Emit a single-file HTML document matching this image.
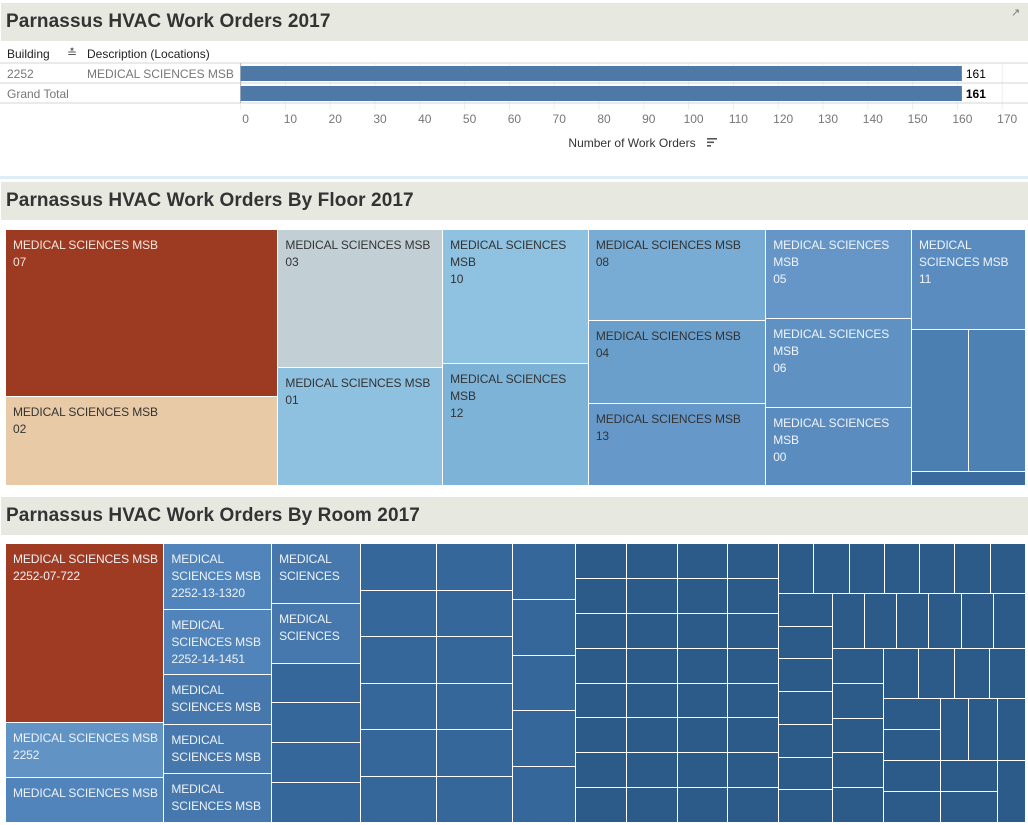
<!DOCTYPE html>
<html><head><meta charset="utf-8">
<style>
body{margin:0;width:1028px;height:825px;background:#fff;font-family:"Liberation Sans",sans-serif;position:relative;overflow:hidden}
.tb{position:absolute;left:1px;width:1027px;height:38px;background:#e7e8e0}
.tb span{position:absolute;left:5px;top:8px;font-size:19px;color:#333;font-weight:bold;letter-spacing:0.1px}
.abs{position:absolute}
.cell{position:absolute;box-sizing:border-box;border-right:1px solid #fff;border-bottom:1px solid #fff;font-size:12px;line-height:17px;padding:7px 7px 0 7px;overflow:hidden;white-space:nowrap;letter-spacing:-0.1px}
</style></head><body>
<div class="tb" style="top:3px"><span>Parnassus HVAC Work Orders 2017</span></div>
<div class="abs" style="left:1011px;top:6px;font-size:11px;color:#777">↗</div>
<div class="abs" style="left:7px;top:47px;font-size:12px;color:#222">Building</div>
<div class="abs" style="left:67px;top:46px;font-size:12px;color:#555">≛</div>
<div class="abs" style="left:87px;top:47px;font-size:12px;color:#222">Description (Locations)</div>
<svg class="abs" style="left:0;top:0" width="1028" height="175" id="hvacBarSvg"></svg>
<div class="abs" style="left:0;top:176px;width:1028px;height:3px;background:#ddeef8"></div>
<div class="tb" style="top:182px"><span>Parnassus HVAC Work Orders By Floor 2017</span></div>
<div class="abs" id="hvacFloorMap" style="left:6px;top:230px;width:1020px;height:256px"></div>
<div class="tb" style="top:497px"><span>Parnassus HVAC Work Orders By Room 2017</span></div>
<div class="abs" id="hvacRoomMap" style="left:6px;top:544px;width:1020px;height:279px"></div>
<script>
var hvacBarCategories=["2252","Grand Total"];
var hvacBarDescriptions=["MEDICAL SCIENCES MSB",""];
var hvacBarValues=[161,161];
var hvacTickValues=[0,10,20,30,40,50,60,70,80,90,100,110,120,130,140,150,160,170];

// floor treemap: nested arrays alternate horizontal/vertical, leaves are counts
var hvacFloorTree=[[28,15],[14,12],[12,11],[10,9,9],[8,8,7],[7,[5,5],1]];
var hvacFloorLabels=["07","02","03","01","10","12","08","04","13","05","06","00","11","","",""];
var hvacFloorPrefix=["MEDICAL SCIENCES MSB","MEDICAL SCIENCES MSB","MEDICAL SCIENCES MSB","MEDICAL SCIENCES MSB",
 "MEDICAL SCIENCES<br>MSB","MEDICAL SCIENCES<br>MSB","MEDICAL SCIENCES MSB","MEDICAL SCIENCES MSB","MEDICAL SCIENCES MSB",
 "MEDICAL SCIENCES<br>MSB","MEDICAL SCIENCES<br>MSB","MEDICAL SCIENCES<br>MSB","MEDICAL<br>SCIENCES MSB","","",""];
var hvacFloorColors=["#9c3a22","#e8cba6","#c2d0d6","#8ec0df","#8fc1e0","#7eb3d8","#79acd4","#6a9fcc","#6699c9","#6596c7","#5f91c3","#5a8cc0","#5a8cc0","#4b7eb1","#4d80b3","#3a6ca0"];
var hvacFloorText=["#f3e6e0","#333","#333","#333","#333","#333","#333","#333","#333","#f0f4f8","#f0f4f8","#f0f4f8","#f0f4f8","","",""];

var hvacRoomTree=[[16,5,4],[4,4,3,3,3],[3,3,2,2,2,2],[2,2,2,2,2,2],[2,2,2,2,2,2],[2,2,2,2,2],
 [1,1,1,1,1,1,1,1],[1,1,1,1,1,1,1,1],[1,1,1,1,1,1,1,1],[1,1,1,1,1,1,1,1],
 [[1,1,1,1,1,1,1],[[1,1,1,1,1,1,1],[[1,1,1,1,1,1],[[1,1,1,1,1],[[1,1,1,1],[[1,1],1,1,1],[[1,1],[1,1],1]]]]]]];
var hvacRoomLabels={0:"MEDICAL SCIENCES MSB<br>2252-07-722",1:"MEDICAL SCIENCES MSB<br>2252",2:"MEDICAL SCIENCES MSB",
 3:"MEDICAL<br>SCIENCES MSB<br>2252-13-1320",4:"MEDICAL<br>SCIENCES MSB<br>2252-14-1451",5:"MEDICAL<br>SCIENCES MSB",6:"MEDICAL<br>SCIENCES MSB",7:"MEDICAL<br>SCIENCES MSB",
 8:"MEDICAL<br>SCIENCES",9:"MEDICAL<br>SCIENCES"};
var hvacRoomColorByValue={16:"#9e3b22",5:"#6194c5",4:"#5084ba",3:"#4778ad",2:"#35679b",1:"#2c5b8a"};

(function(){
 var svgEl=document.getElementById('hvacBarSvg');
 var ns="http://www.w3.org/2000/svg";
 var zeroX=240.6,pxPer=4.48;
 function sx(v){return zeroX+v*pxPer;}
 function mkEl(t,a,txt){var e=document.createElementNS(ns,t);for(var k in a)e.setAttribute(k,a[k]);if(txt!==undefined)e.textContent=String(txt);svgEl.appendChild(e);return e;}
 hvacTickValues.forEach(function(t){
  var g=mkEl('line',{x1:sx(t),x2:sx(t),y1:63,y2:110,stroke:'#eee'});
  
  
  var l=mkEl('text',{x:sx(t)+5,y:123,'font-size':12,fill:'#777','text-anchor':'middle','font-family':'Liberation Sans'},t);
  
  
 });
 [63,83,103].forEach(function(y){var l=mkEl('line',{x1:0,x2:1028,y1:y,y2:y,stroke:'#d4d4d4'});
  
  });
 mkEl('line',{x1:sx(0),x2:sx(0),y1:63,y2:103,stroke:'#bbb'});
 hvacBarValues.forEach(function(v,i){
  var y=66+i*20;
  var r=mkEl('rect',{x:sx(0),y:y,width:sx(v)-sx(0),height:15,fill:'#4e79a7'});
  
  
  var t=mkEl('text',{x:sx(v)+4,y:y+12,'font-size':12,fill:'#000','font-family':'Liberation Sans','font-weight':i==1?'bold':'normal'},v);
  
  
  var c=mkEl('text',{x:7,y:y+12,'font-size':12,fill:'#777','font-family':'Liberation Sans'},hvacBarCategories[i]);
  
  
  if(hvacBarDescriptions[i]){var d=mkEl('text',{x:87,y:y+12,'font-size':12,fill:'#777','font-family':'Liberation Sans'},hvacBarDescriptions[i]);
  
  }
 });
 var at=mkEl('text',{x:632,y:147,'font-size':12,fill:'#333','text-anchor':'middle','font-family':'Liberation Sans'},'Number of Work Orders');
 
 
 [0,1,2].forEach(function(i){mkEl('rect',{x:707,y:138+i*3.5,width:10-i*3,height:1.6,fill:'#555'});});

 function total(n){if(Array.isArray(n)){var s=0;n.forEach(function(c){s+=total(c);});return s;}return n;}
 function lay(node,x,y,w,h,horiz,out){
  if(!Array.isArray(node)){out.push({x:x,y:y,w:w,h:h,v:node});return;}
  var tot=total(node),off=0;
  node.forEach(function(c){var f=total(c)/tot;
   if(horiz){lay(c,x+off,y,w*f,h,!horiz,out);off+=w*f;}
   else{lay(c,x,y+off,w,h*f,!horiz,out);off+=h*f;}});
 }
 function drawMap(id,tree,W,H,cb){
  var el=document.getElementById(id);var out=[];
  lay(tree,0,0,W,H,true,out);
  out.forEach(function(c,i){var d=document.createElement('div');d.className='cell';
   d.style.left=c.x+'px';d.style.top=c.y+'px';d.style.width=c.w+'px';d.style.height=c.h+'px';
   
   
   cb(d,c,i);el.appendChild(d);});
 }
 drawMap('hvacFloorMap',hvacFloorTree,1020,256,function(d,c,i){d.style.background=hvacFloorColors[i];d.style.color=hvacFloorText[i];
  if(hvacFloorLabels[i])d.innerHTML=hvacFloorPrefix[i]+'<br>'+hvacFloorLabels[i];});
 drawMap('hvacRoomMap',hvacRoomTree,1020,279,function(d,c,i){d.style.background=hvacRoomColorByValue[c.v];d.style.color='#eef3f8';
  if(hvacRoomLabels[i])d.innerHTML=hvacRoomLabels[i];});
})();
</script>
</body></html>
